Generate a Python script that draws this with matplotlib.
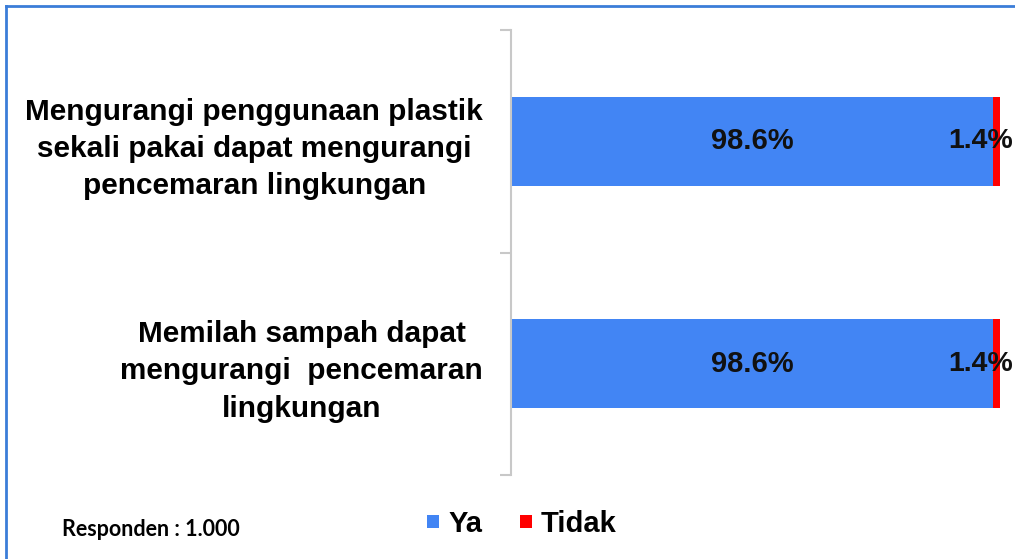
import matplotlib
matplotlib.use("Agg")
import matplotlib.pyplot as plt
from matplotlib.lines import Line2D
from matplotlib.patches import Patch

categories = [
    "Mengurangi penggunaan plastik\nsekali pakai dapat mengurangi\npencemaran lingkungan",
    "Memilah sampah dapat\nmengurangi  pencemaran\nlingkungan",
]
ya = [98.6, 98.6]
tidak = [1.4, 1.4]
series_names = ["Ya", "Tidak"]
note = "Responden : 1.000"

BLUE = "#4285F4"
RED = "#FF0000"

W, H = 1015, 559
fig = plt.figure(figsize=(W / 100, H / 100), dpi=100)
fig.patch.set_facecolor("white")

ax = fig.add_axes([511 / W, 1 - 475 / H, (1000 - 511) / W, (475 - 30) / H])

ypos = list(range(len(categories)))
bar_h = 0.40
ax.barh(ypos, ya, height=bar_h, color=BLUE, label=series_names[0])
ax.barh(ypos, tidak, left=ya, height=bar_h, color=RED, label=series_names[1])

ax.set_xlim(0, 100)
ax.set_ylim(len(categories) - 0.5, -0.5)

font = "Liberation Sans"
for y, a, t in zip(ypos, ya, tidak):
    ax.text(a / 2, y, f"{a:.1f}%", ha="center", va="center", fontsize=21,
            fontweight="bold", family=font, color="#111111")
    ax.annotate(f"{t:.1f}%", xy=(100, y), xytext=(9, 0), textcoords="offset points",
                ha="right", va="center", fontsize=20.5, fontweight="bold",
                family=font, color="#111111", annotation_clip=False)

for s in ["top", "right", "bottom"]:
    ax.spines[s].set_visible(False)
ax.spines["left"].set_color("#c8c8c8")
ax.spines["left"].set_linewidth(1.5)
ax.set_xticks([])
ax.set_yticks(ypos)
ax.set_yticklabels(categories, fontsize=21.4, fontweight="bold", family=font,
                   multialignment="center", linespacing=1.42)
ax.tick_params(axis="y", which="major", length=0, pad=20)
ax.set_yticks([-0.5, 0.5, 1.5], minor=True)
ax.tick_params(axis="y", which="minor", length=8, width=1.5, color="#c8c8c8")

handles = [Patch(facecolor=BLUE), Patch(facecolor=RED)]
fig.legend(handles, series_names, loc="center", bbox_to_anchor=(522 / W, 1 - 524 / H),
           ncol=2, frameon=False, prop={"family": font, "weight": "bold", "size": 21},
           handlelength=0.42, handleheight=0.3, handletextpad=0.3, columnspacing=1.3)

fig.text(62 / W, 1 - 530 / H, note, ha="left", va="center", fontsize=15.5,
         fontweight="bold", family="Lato")

# outer frame (left and top visible)
fig.add_artist(Line2D([5.5 / W, 5.5 / W], [0, 1 - 6 / H], transform=fig.transFigure,
                      color="#3b7dd8", lw=2))
fig.add_artist(Line2D([5.5 / W, 1], [1 - 6 / H, 1 - 6 / H], transform=fig.transFigure,
                      color="#3b7dd8", lw=2))

fig.savefig("out.png", dpi=100)
